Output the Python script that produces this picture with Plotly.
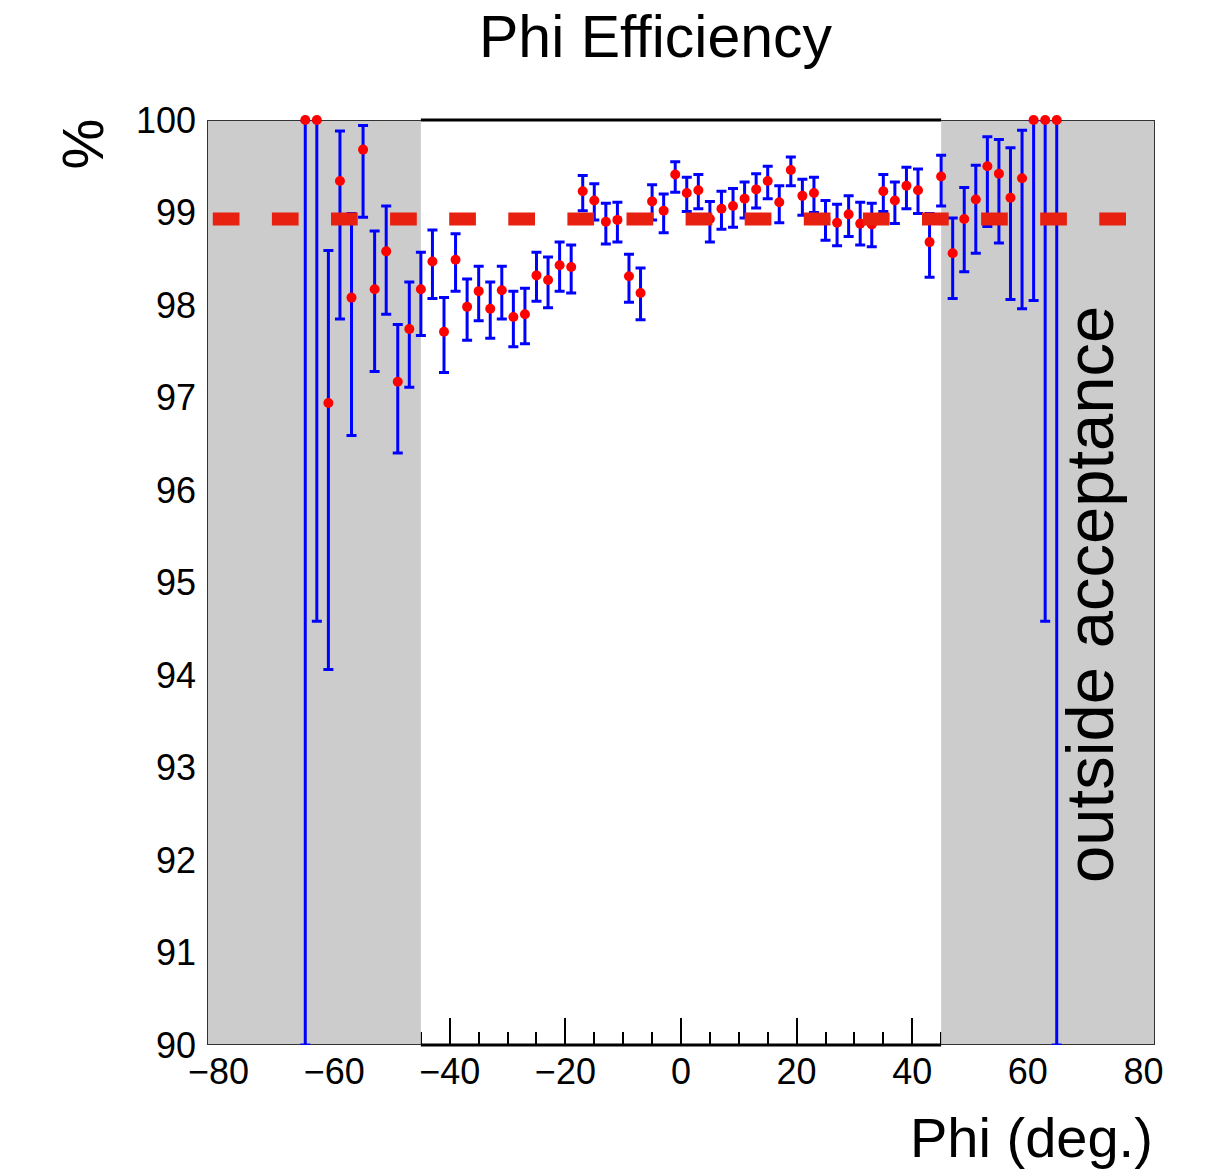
import plotly.graph_objects as go

# ---------------- data ----------------
phi = [-65, -63, -61, -59, -57, -55, -53, -51, -49, -47, -45, -43, -41, -39, -37, -35,
       -33, -31, -29, -27, -25, -23, -21, -19, -17, -15, -13, -11, -9, -7, -5, -3, -1,
       1, 3, 5, 7, 9, 11, 13, 15, 17, 19, 21, 23, 25, 27, 29, 31, 33, 35, 37, 39, 41,
       43, 45, 47, 49, 51, 53, 55, 57, 59, 61, 63, 65]

eff = [100.0, 100.0, 96.94, 99.34, 98.08, 99.68, 98.17, 98.58, 97.17, 97.74, 98.17, 98.47,
       97.71, 98.49, 97.98, 98.15, 97.96, 98.16, 97.87, 97.90, 98.32, 98.27, 98.43, 98.41,
       99.23, 99.13, 98.90, 98.92, 98.31, 98.13, 99.12, 99.02, 99.41,
       99.21, 99.24, 98.93, 99.04, 99.07, 99.15, 99.25, 99.34, 99.11, 99.46, 99.18, 99.21,
       98.93, 98.89, 98.98, 98.88, 98.87, 99.23, 99.13, 99.29, 99.24, 98.68, 99.39, 98.56,
       98.93, 99.14, 99.50, 99.42, 99.16, 99.37, 100.0, 100.0, 100.0]

eff_upper = [100.0, 100.0, 98.59, 99.88, 98.99, 99.94, 98.80, 99.07, 97.79, 98.25, 98.57, 98.81,
             98.08, 98.77, 98.28, 98.42, 98.25, 98.42, 98.15, 98.18, 98.57, 98.52, 98.68, 98.65,
             99.40, 99.31, 99.10, 99.11, 98.55, 98.40, 99.30, 99.20, 99.55,
             99.38, 99.41, 99.12, 99.23, 99.26, 99.33, 99.42, 99.50, 99.29, 99.60, 99.36, 99.38,
             99.13, 99.09, 99.18, 99.11, 99.10, 99.41, 99.33, 99.49, 99.47, 98.99, 99.62, 98.94,
             99.27, 99.51, 99.82, 99.79, 99.70, 99.89, 100.0, 100.0, 100.0]

eff_lower = [90.0, 94.58, 94.06, 97.85, 96.59, 98.95, 97.28, 97.90, 96.40, 97.11, 97.67, 98.07,
             97.27, 98.15, 97.62, 97.83, 97.64, 97.85, 97.55, 97.58, 98.04, 97.97, 98.15, 98.13,
             99.02, 98.92, 98.66, 98.68, 98.03, 97.84, 98.92, 98.78, 99.22,
             99.01, 99.04, 98.68, 98.82, 98.84, 98.94, 99.05, 99.15, 98.89, 99.29, 98.97, 99.00,
             98.70, 98.64, 98.74, 98.65, 98.63, 99.01, 98.88, 99.04, 98.99, 98.30, 99.07, 98.07,
             98.36, 98.56, 98.85, 98.67, 98.06, 97.96, 98.05, 94.58, 90.0]

mean_eff = 98.93
x_range = [-82, 82]
y_range = [90, 100]
acceptance = [-45, 45]
x_tickvals = [-80, -60, -40, -20, 0, 20, 40, 60, 80]
y_tickvals = [90, 91, 92, 93, 94, 95, 96, 97, 98, 99, 100]

err_plus = [u - v for u, v in zip(eff_upper, eff)]
err_minus = [v - l for v, l in zip(eff, eff_lower)]

FONT = "Liberation Sans, Arial, Helvetica, sans-serif"
GRAY = "#cccccc"

fig = go.Figure()

# outside-acceptance shaded regions (drawn as traces so axis ticks stay hidden beneath)
for xa, xb in [(acceptance[0], x_range[0]), (acceptance[1], x_range[1])]:
    fig.add_trace(go.Scatter(
        x=[xa, xb, xb, xa], y=[y_range[1], y_range[1], y_range[0], y_range[0]],
        mode="lines", fill="toself", fillcolor=GRAY,
        line=dict(color="#333333", width=2), hoverinfo="skip", showlegend=False))

# efficiency points with asymmetric error bars
fig.add_trace(go.Scatter(
    x=phi, y=eff, mode="markers",
    marker=dict(color="#ff0000", size=10),
    error_y=dict(type="data", symmetric=False, array=err_plus, arrayminus=err_minus,
                 color="#0000ff", thickness=3, width=5),
    cliponaxis=False, showlegend=False))

# mean efficiency dashed line
fig.add_trace(go.Scatter(
    x=x_range, y=[mean_eff, mean_eff], mode="lines",
    line=dict(color="#e8200f", width=13, dash="0px,5.8px,26.7px,26.6px"),
    hoverinfo="skip", showlegend=False))

# thick frame segments inside the acceptance window
shapes = []
for yp in (0, 1):
    shapes.append(dict(type="line", xref="x", yref="paper",
                       x0=acceptance[0], x1=acceptance[1], y0=yp, y1=yp,
                       line=dict(color="black", width=3), layer="above"))

fig.update_layout(
    width=1226, height=1172,
    margin=dict(l=207, r=71, t=120, b=127),
    paper_bgcolor="white", plot_bgcolor="white",
    font=dict(family=FONT, color="black"),
    showlegend=False,
    shapes=shapes,
    xaxis=dict(range=x_range, tickvals=x_tickvals, ticks="inside", ticklen=27, tickwidth=2,
               tickcolor="black", showline=False,
               showgrid=False, zeroline=False, layer="below traces",
               tickfont=dict(size=36, family=FONT), ticklabelstandoff=2,
               minor=dict(dtick=5, tick0=0, ticks="inside", ticklen=13, tickwidth=2,
                          tickcolor="black", showgrid=False)),
    yaxis=dict(range=y_range, tickvals=y_tickvals, ticks="inside", ticklen=27, tickwidth=2,
               tickcolor="black", showline=False,
               showgrid=False, zeroline=False, layer="below traces",
               tickfont=dict(size=36, family=FONT), ticklabelstandoff=10),
    annotations=[
        dict(text="Phi Efficiency", xref="paper", yref="paper",
             x=(656 - 207) / 948, y=(1045 - 37) / 925, xanchor="center", yanchor="middle",
             showarrow=False, font=dict(size=59, family=FONT)),
        dict(text="Phi (deg.)", xref="paper", yref="paper",
             x=1.0, y=(1045 - 1137) / 925, xanchor="right", yanchor="middle",
             showarrow=False, font=dict(size=56, family=FONT)),
        dict(text="%", xref="paper", yref="paper", textangle=-90,
             x=(82.5 - 207) / 948, y=(1045 - 144) / 925, xanchor="center", yanchor="middle",
             showarrow=False, font=dict(size=57, family=FONT)),
        dict(text="outside acceptance", xref="paper", yref="paper", textangle=-90,
             x=(1089 - 207) / 948, y=(1045 - 595) / 925, xanchor="center", yanchor="middle",
             showarrow=False, font=dict(size=67, family=FONT)),
    ],
)

fig.write_html("out.html")
